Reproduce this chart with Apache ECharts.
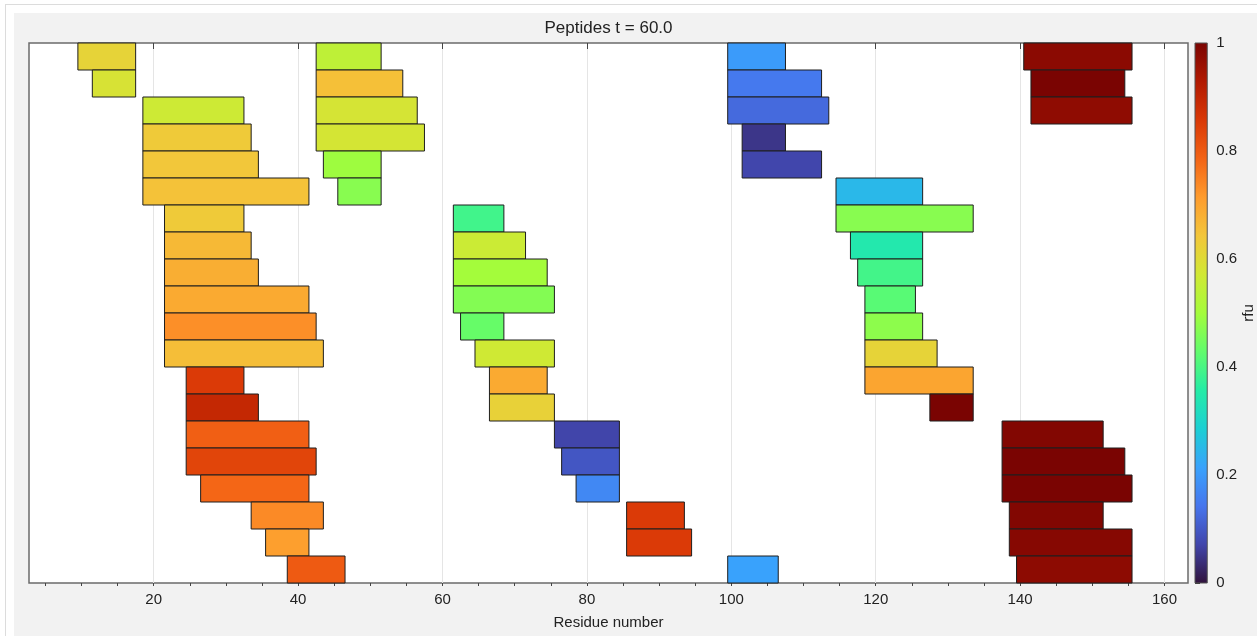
<!DOCTYPE html>
<html><head><meta charset="utf-8">
<script src="https://cdn.jsdelivr.net/npm/echarts@6/dist/echarts.min.js"></script>
<style>
html,body{margin:0;padding:0;background:#fff;width:1257px;height:636px;overflow:hidden;}
#frame{position:absolute;left:5px;top:4px;right:0;bottom:0;border-left:1px solid #dcdcdc;border-top:1px solid #dcdcdc;}
#bg{position:absolute;left:14px;top:13px;right:0;bottom:0;background:#f2f2f2;}
#chart{position:absolute;left:0;top:0;width:1257px;height:636px;}
</style></head><body>
<div id="frame"></div><div id="bg"></div><div id="chart"></div>
<script>
// Peptide rows (0 = top), start / end residue, rfu value
const rows = [
  0,0,0,0,
  1,1,1,1,
  2,2,2,2,
  3,3,3,
  4,4,4,
  5,5,5,
  6,6,6,
  7,7,7,
  8,8,8,
  9,9,9,
  10,10,10,
  11,11,11,
  12,12,12,
  13,13,13,
  14,14,14,
  15,15,15,
  16,16,16,
  17,17,17,
  18,18,18,
  19,19,19
];
const starts = [
  10,43,100,141,
  12,43,100,142,
  19,43,100,142,
  19,43,102,
  19,44,102,
  19,46,115,
  22,62,115,
  22,62,117,
  22,62,118,
  22,62,119,
  22,63,119,
  22,65,119,
  25,67,119,
  25,67,128,
  25,76,138,
  25,77,138,
  27,79,138,
  34,86,139,
  36,86,139,
  39,100,140
];
const ends = [
  17,51,107,155,
  17,54,112,154,
  32,56,113,155,
  33,57,107,
  34,51,112,
  41,51,126,
  32,68,133,
  33,71,126,
  34,74,126,
  41,75,125,
  42,68,126,
  43,75,128,
  32,74,133,
  34,75,133,
  41,84,151,
  42,84,154,
  41,84,155,
  43,93,151,
  41,94,155,
  46,106,155
];
const rfu = [
  0.616,0.542,0.203,0.978,
  0.583,0.653,0.149,1.0,
  0.565,0.580,0.126,0.973,
  0.635,0.577,0.050,
  0.640,0.494,0.073,
  0.649,0.470,0.249,
  0.634,0.391,0.470,
  0.664,0.562,0.347,
  0.683,0.500,0.393,
  0.690,0.465,0.418,
  0.729,0.434,0.475,
  0.656,0.568,0.616,
  0.853,0.690,0.698,
  0.895,0.620,1.0,
  0.792,0.071,0.990,
  0.836,0.097,1.0,
  0.782,0.173,1.0,
  0.736,0.853,0.990,
  0.708,0.853,0.985,
  0.800,0.214,0.975
];
const majorTicks = [20,40,60,80,100,120,140,160];
const minorTicks = [5,10,15,20,25,30,35,40,45,50,55,60,65,70,75,80,85,90,95,100,105,110,115,120,125,130,135,140,145,150,155,160];
const turbo = ['#30123b','#4145ab','#4675ed','#39a2fc','#1bcfd4','#24eca6','#61fc6c','#a4fc3b','#d1e834','#f3c63a','#fe9b2d','#f36315','#d93806','#b11901','#7a0402'];

const FONT = '"Liberation Sans", Arial, Helvetica, sans-serif';
const data = rows.map((r, i) => [starts[i], ends[i], r, rfu[i]]);

const chart = echarts.init(document.getElementById('chart'), null, {renderer: 'canvas'});
chart.setOption({
  animation: false,
  textStyle: {fontFamily: FONT},
  title: {
    text: 'Peptides t = 60.0', left: 608.5, top: 20, textAlign: 'center', padding: 0,
    textStyle: {fontSize: 17, fontWeight: 'normal', color: '#222', fontFamily: FONT}
  },
  grid: [
    {left: 29, top: 43, width: 1159, height: 540, show: true, backgroundColor: '#ffffff', borderColor: '#6b6b6b', borderWidth: 1.5},
    {left: 1195, top: 43, width: 13, height: 540, show: false}
  ],
  xAxis: [
    {
      gridIndex: 0, type: 'value', min: 2.73, max: 163.25, position: 'bottom',
      name: 'Residue number', nameLocation: 'middle', nameGap: 32,
      nameTextStyle: {fontSize: 15, color: '#222', fontFamily: FONT},
      axisLine: {show: false},
      axisTick: {show: true, customValues: majorTicks, length: 6, lineStyle: {color: '#444', width: 1}},
      axisLabel: {show: true, customValues: majorTicks, fontSize: 15, color: '#222', margin: 9, fontFamily: FONT},
      splitLine: {show: true, lineStyle: {color: '#e5e5e5', width: 1}}
    },
    {
      gridIndex: 0, type: 'value', min: 2.73, max: 163.25, position: 'bottom',
      axisLine: {show: false},
      axisTick: {show: true, customValues: minorTicks, length: 3, lineStyle: {color: '#444', width: 1}},
      axisLabel: {show: false},
      splitLine: {show: false}
    },
    {gridIndex: 1, type: 'value', min: 0, max: 1, show: false}
  ],
  yAxis: [
    {gridIndex: 0, type: 'value', min: 0, max: 20, inverse: true, show: false},
    {
      gridIndex: 1, type: 'value', min: 0, max: 1, interval: 0.2, position: 'right',
      name: 'rfu', nameLocation: 'middle', nameRotate: 90, nameGap: 33,
      nameTextStyle: {fontSize: 15, color: '#222', fontFamily: FONT},
      axisLine: {show: false},
      axisTick: {show: true, length: 5, lineStyle: {color: '#333', width: 1}},
      axisLabel: {show: true, fontSize: 15, color: '#222', margin: 9, fontFamily: FONT},
      splitLine: {show: false}
    }
  ],
  visualMap: {
    type: 'continuous', show: false, min: 0, max: 1, dimension: 3, seriesIndex: 0,
    inRange: {color: turbo}
  },
  series: [
    {
      type: 'custom', xAxisIndex: 0, yAxisIndex: 0,
      encode: {x: [0, 1], y: 2},
      data: data,
      renderItem: function (params, api) {
        const p0 = api.coord([api.value(0) - 0.5, api.value(2)]);
        const p1 = api.coord([api.value(1) + 0.5, api.value(2) + 1]);
        return {
          type: 'rect',
          shape: {x: p0[0], y: Math.min(p0[1], p1[1]), width: p1[0] - p0[0], height: Math.abs(p1[1] - p0[1])},
          style: {fill: api.visual('color'), stroke: '#1e1e1e', lineWidth: 1}
        };
      }
    },
    {
      type: 'custom', xAxisIndex: 2, yAxisIndex: 1,
      data: [[0, 0]],
      renderItem: function (params, api) {
        const a = api.coord([0, 0]);
        const b = api.coord([1, 1]);
        return {
          type: 'rect',
          shape: {x: a[0], y: b[1], width: b[0] - a[0], height: a[1] - b[1]},
          style: {
            fill: new echarts.graphic.LinearGradient(0, 1, 0, 0,
              turbo.map((c, i) => ({offset: i / (turbo.length - 1), color: c}))),
            stroke: '#555', lineWidth: 1
          }
        };
      }
    }
  ]
});
</script>
</body></html>
